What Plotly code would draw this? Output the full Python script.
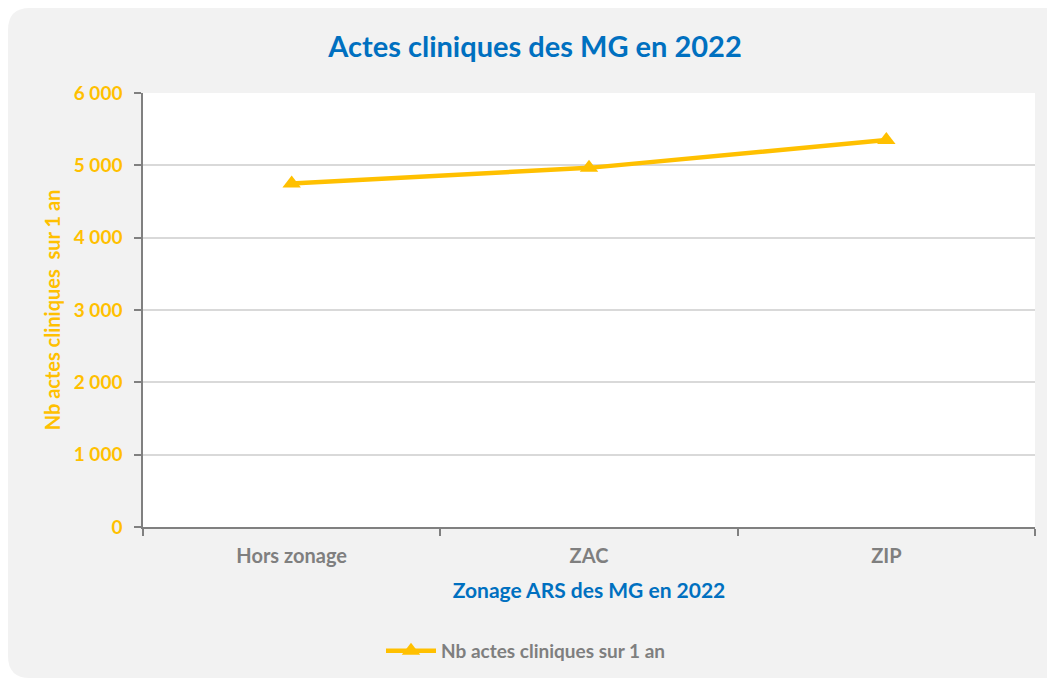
import plotly.graph_objects as go

categories = ["Hors zonage", "ZAC", "ZIP"]
values = [4750, 4965, 5350]
series_name = "Nb actes cliniques sur 1 an"
y_ticks = [0, 1000, 2000, 3000, 4000, 5000, 6000]
y_tick_labels = ["0", "1 000", "2 000", "3 000", "4 000", "5 000", "6 000"]

# page is offset by the 8px body margin
OFF = 8
W, H = 1055 - OFF, 681 - OFF
ML, MT = 143 - OFF, 93 - OFF
PW, PH = 892, 434
MR = W - ML - PW
MB = H - MT - PH

FONT = "Lato, Carlito, 'Open Sans', sans-serif"
YEL = "#FFC000"
BLUE = "#0070C0"
GRAY = "#7F7F7F"

def px2x(px):
    return (px - OFF - ML) / PW

def py2y(py):
    return (MT + PH - (py - OFF)) / PH

# rounded card background (page coords)
x0, x1, y0, y1, r = 8, 1090, 8, 678, 22
rx, ry = r / PW, r / PH
X0, X1, Y0, Y1 = px2x(x0), px2x(x1), py2y(y0), py2y(y1)
path = (f"M {X0+rx},{Y0} L {X1-rx},{Y0} Q {X1},{Y0} {X1},{Y0-ry} "
        f"L {X1},{Y1+ry} Q {X1},{Y1} {X1-rx},{Y1} L {X0+rx},{Y1} "
        f"Q {X0},{Y1} {X0},{Y1+ry} L {X0},{Y0-ry} Q {X0},{Y0} {X0+rx},{Y0} Z")

fig = go.Figure()
fig.add_trace(go.Scatter(
    x=categories, y=values, name=f"<b>{series_name}</b>", mode="lines+markers",
    line=dict(color=YEL, width=4.5),
    marker=dict(symbol="triangle-up", size=16, color=YEL),
))

fig.update_layout(
    width=W, height=H,
    margin=dict(l=ML, r=MR, t=MT, b=MB, autoexpand=False),
    paper_bgcolor="white", plot_bgcolor="white",
    font=dict(family=FONT),
    title=dict(text="<b>Actes cliniques des MG en 2022</b>", x=(535 - OFF) / W, xref="container",
               xanchor="center", y=1 - (47 - OFF) / H, yanchor="middle",
               font=dict(size=29, color=BLUE, family=FONT)),
    shapes=[
        dict(type="path", path=path, xref="paper", yref="paper",
             fillcolor="#F2F2F2", line=dict(width=0), layer="below"),
        dict(type="rect", x0=0, x1=1, y0=0, y1=1, xref="paper", yref="paper",
             fillcolor="white", line=dict(width=0), layer="below"),
    ],
    showlegend=True,
    legend=dict(orientation="h", x=px2x(526), xanchor="center",
                y=py2y(651), yanchor="middle",
                font=dict(size=19, color=GRAY, family=FONT),
                bgcolor="rgba(0,0,0,0)", itemwidth=50),
    xaxis=dict(
        type="category", range=[-0.5, 2.5], tickson="boundaries",
        ticks="outside", ticklen=7, tickcolor="#808080", tickwidth=1.5,
        showline=True, linecolor="#808080", linewidth=1.5,
        showgrid=False, zeroline=False, ticklabelstandoff=10,
        tickfont=dict(size=20, color=GRAY, family=FONT),
        ticktext=[f"<b>{c}</b>" for c in categories], tickvals=categories,
        title=dict(text="<b>Zonage ARS des MG en 2022</b>", standoff=18,
                   font=dict(size=21, color=BLUE, family=FONT)),
    ),
    yaxis=dict(
        range=[0, 6000], tickvals=y_ticks, ticktext=[f"<b>{t}</b>" for t in y_tick_labels],
        ticks="outside", ticklen=7, tickcolor="#808080", tickwidth=1.5,
        showline=True, linecolor="#808080", linewidth=1.5, ticklabelstandoff=8,
        showgrid=True, gridcolor="#D9D9D9", gridwidth=1.5, zeroline=False,
        tickfont=dict(size=19, color=YEL, family=FONT),
        title=dict(text="<b>Nb actes cliniques  sur 1 an</b>", standoff=8,
                   font=dict(size=20, color=YEL, family=FONT)),
    ),
)

fig.write_html("out.html")
